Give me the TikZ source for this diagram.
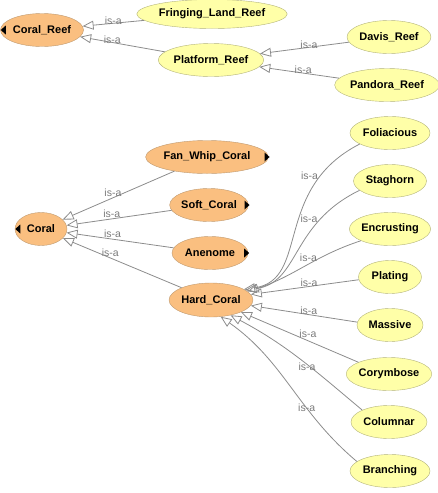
\documentclass[tikz,border=0pt]{standalone}
\usepackage{fontspec}
\setsansfont{Liberation Sans}
\usetikzlibrary{arrows.meta,shapes.geometric}
\definecolor{clsfill}{HTML}{FABF80}
\definecolor{clsline}{HTML}{BF9A70}
\definecolor{indfill}{HTML}{FFFFA8}
\definecolor{indline}{HTML}{B3B37A}
\definecolor{edgegray}{HTML}{8C8C8C}
\definecolor{labgray}{HTML}{7A7A7A}
\tikzset{
  owlclass/.style = {ellipse, draw=clsline, fill=clsfill, inner sep=0pt,
                     minimum height=33, font=\sffamily\bfseries\fontsize{11}{12}\selectfont},
  owlleaf/.style  = {owlclass, draw=indline, fill=indfill},
  isa/.style      = {-{Triangle[open,length=11pt,width=9pt]}, draw=edgegray, line width=0.8pt},
  islab/.style    = {font=\sffamily\fontsize{10.5}{11}\selectfont, text=labgray, inner sep=1pt},
}
\begin{document}
\begin{tikzpicture}[x=1pt,y=1pt]
\useasboundingbox (0,0) rectangle (437,-493);
% reef part
\node[owlclass,minimum width=83] (reef) at (42,-30) {Coral\_Reef};
\node[owlleaf,minimum width=135,minimum height=29] (fringing) at (212,-14) {Fringing\_Land\_Reef};
\node[owlleaf,minimum width=101] (platform) at (211,-60) {Platform\_Reef};
\node[owlleaf,minimum width=83] (davis) at (389,-37) {Davis\_Reef};
\node[owlleaf,minimum width=99] (pandora) at (387,-85) {Pandora\_Reef};
\draw[isa] (fringing) -- node[islab,pos=.5,yshift=2.5]{is-a} (reef);
\draw[isa] (platform) -- node[islab,pos=.62,yshift=3]{is-a} (reef);
\draw[isa] (davis) -- node[islab,pos=.45,yshift=3]{is-a} (platform);
\draw[isa] (pandora) -- node[islab,pos=.45,yshift=3]{is-a} (platform);
% coral classes
\node[owlclass,minimum width=52] (coral) at (41,-229) {Coral};
\node[owlclass,minimum width=105] (fanwhip) at (207,-157) {Fan\_Whip\_Coral};
\node[owlclass,minimum width=78] (soft) at (209,-205) {Soft\_Coral};
\node[owlclass,minimum width=76] (anenome) at (210,-253) {Anenome};
\node[owlclass,minimum width=82,minimum height=34] (hard) at (211,-300) {Hard\_Coral};
\draw[isa] (fanwhip) -- node[islab,pos=.55,above]{is-a} (coral);
\draw[isa] (soft) -- node[islab,pos=.57,above]{is-a} (coral);
\draw[isa] (anenome) -- node[islab,pos=.57,above]{is-a} (coral);
\draw[isa] (hard) -- node[islab,pos=.6,above]{is-a} (coral);
% hard coral growth forms
\node[owlleaf,minimum width=80] (foliacious) at (390,-133) {Foliacious};
\node[owlleaf,minimum width=73] (staghorn) at (390,-181) {Staghorn};
\node[owlleaf,minimum width=80] (encrusting) at (390,-229) {Encrusting};
\node[owlleaf,minimum width=63] (plating) at (390,-277) {Plating};
\node[owlleaf,minimum width=66] (massive) at (390,-325) {Massive};
\node[owlleaf,minimum width=84] (corymbose) at (389,-374) {Corymbose};
\node[owlleaf,minimum width=76] (columnar) at (389,-422) {Columnar};
\node[owlleaf,minimum width=80] (branching) at (390,-471) {Branching};
\draw[isa] (foliacious.200) to[out=207,in=8,out looseness=1.35,in looseness=.92]
  node[islab,pos=.2,anchor=east,xshift=-1]{is-a} (hard.18);
\draw[isa] (staghorn.197) to[out=206,in=8,out looseness=1.31,in looseness=.93]
  node[islab,pos=.25,anchor=east,xshift=-1]{is-a} (hard.16);
\draw[isa] (encrusting.202) to[out=198,in=18]
  node[islab,pos=.4,xshift=-6,yshift=3.5]{is-a} (hard.13);
\draw[isa] (plating.185) -- node[islab,pos=.46,yshift=3.5]{is-a} (hard.8);
\draw[isa] (massive.175) -- node[islab,pos=.455,yshift=4]{is-a} (hard.-8);
\draw[isa] (corymbose.159) -- node[islab,pos=.43,above,yshift=2]{is-a} (hard.-22);
\draw[isa] (columnar.156) to[out=140,in=-28]
  node[islab,pos=.35,anchor=south east]{is-a} (hard.-38);
\draw[isa] (branching.164) to[out=140,in=-35]
  node[islab,pos=.33,xshift=-3,yshift=4]{is-a} (hard.-60);
% hidden sub-tree markers
\foreach \n in {reef,coral}
  \fill (\n.west) ++(0.5,0) -- ++(5,4.5) -- ++(0,-9) -- cycle;
\foreach \n in {fanwhip,soft,anenome}
  \fill (\n.east) ++(1,0) -- ++(-5,4.5) -- ++(0,-9) -- cycle;
\end{tikzpicture}
\end{document}
